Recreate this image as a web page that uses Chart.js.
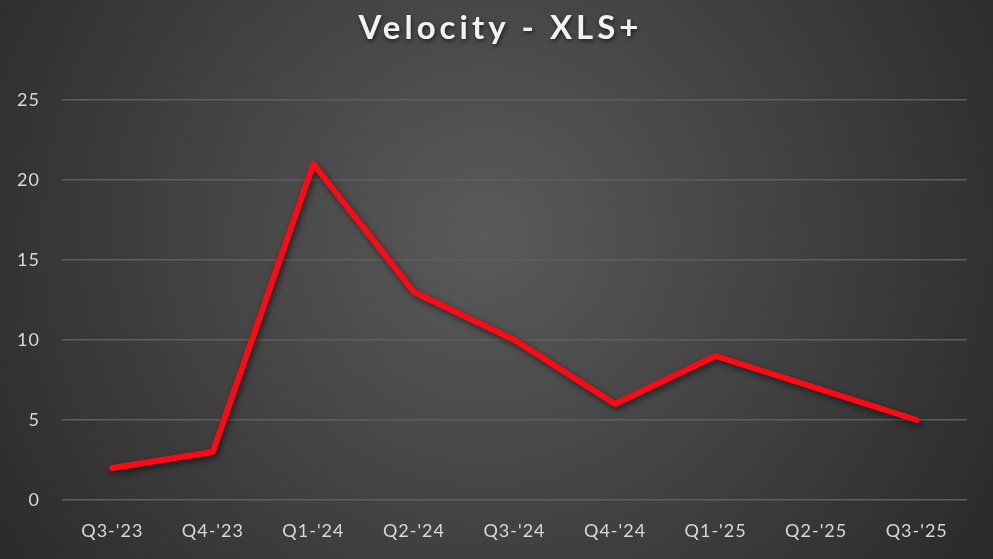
<!DOCTYPE html>
<html>
<head>
<meta charset="utf-8">
<script src="https://cdn.jsdelivr.net/npm/chart.js@4"></script>
<style>
html,body{margin:0;padding:0;background:#3a3a3a;}
#wrap{width:993px;height:559px;position:relative;}
</style>
</head>
<body>
<div id="wrap"><canvas id="c" width="993" height="559"></canvas></div>
<script>
const categories = ["Q3-'23","Q4-'23","Q1-'24","Q2-'24","Q3-'24","Q4-'24","Q1-'25","Q2-'25","Q3-'25"];
const velocity = [2, 3, 21, 13, 10, 6, 9, 7, 5];
const yTicks = [0, 5, 10, 15, 20, 25];
const titleText = "Velocity - XLS+";

const bgPlugin = {
  id: 'bg',
  beforeDraw(chart) {
    const ctx = chart.ctx, w = chart.width, h = chart.height;
    const g = ctx.createRadialGradient(w*0.49, h*0.42, 0, w*0.49, h*0.42, w*0.62);
    g.addColorStop(0, '#5a5a5a');
    g.addColorStop(1, '#282828');
    ctx.save();
    ctx.fillStyle = g;
    ctx.fillRect(0, 0, w, h);
    ctx.restore();
    ctx.letterSpacing = '1px';
  }
};
const shadowPlugin = {
  id: 'lineShadow',
  beforeDatasetDraw(chart) {
    const ctx = chart.ctx;
    ctx.save();
    ctx.shadowColor = 'rgba(0,0,0,0.55)';
    ctx.shadowBlur = 6;
    ctx.shadowOffsetX = 2;
    ctx.shadowOffsetY = 3;
  },
  afterDatasetDraw(chart) { chart.ctx.restore(); }
};

const chart = new Chart(document.getElementById('c'), {
  type: 'line',
  data: {
    labels: categories,
    datasets: [{
      label: 'Velocity',
      data: velocity,
      borderColor: '#ff0a14',
      borderWidth: 6,
      pointRadius: 0,
      tension: 0,
      borderCapStyle: 'round',
      borderJoinStyle: 'round',
      fill: false
    }]
  },
  options: {
    responsive: false,
    animation: false,
    layout: { padding: { top: 0, right: 26, bottom: 0, left: 0 } },
    plugins: {
      legend: { display: false },
      tooltip: { enabled: false },
      title: {
        display: true,
        text: titleText,
        color: '#f2f2f2',
        font: { family: 'Lato', size: 33, weight: 'bold' },
        padding: { top: 7, bottom: 53.4 }
      }
    },
    scales: {
      x: {
        offset: true,
        grid: { display: false, drawTicks: false },
        border: { display: false },
        ticks: { color: '#d9d9d9', font: { family: 'Lato', size: 18 }, padding: 20, maxRotation: 0 },
        afterFit(s) { s.height = 59; }
      },
      y: {
        min: 0, max: 25,
        afterBuildTicks(s) { s.ticks = yTicks.map(v => ({ value: v })); },
        grid: { color: '#5e5e5e', lineWidth: 1.5, drawTicks: false },
        border: { display: false },
        ticks: { color: '#d9d9d9', font: { family: 'Lato', size: 18 }, padding: 22 },
        afterFit(s) { s.width = 62; }
      }
    }
  },
  plugins: [bgPlugin, shadowPlugin]
});

// give the title Excel-like letter spacing and a soft shadow, centred on the canvas
const tb = chart.titleBlock;
if (tb) {
  const origDraw = tb.draw;
  tb.draw = function() {
    const ctx = this.ctx;
    ctx.save();
    ctx.translate(17, 2);
    ctx.letterSpacing = '4px';
    ctx.shadowColor = 'rgba(0,0,0,0.6)';
    ctx.shadowBlur = 4;
    ctx.shadowOffsetX = 1;
    ctx.shadowOffsetY = 2;
    origDraw.apply(this, arguments);
    ctx.restore();
  };
  chart.draw();
}
</script>
</body>
</html>
